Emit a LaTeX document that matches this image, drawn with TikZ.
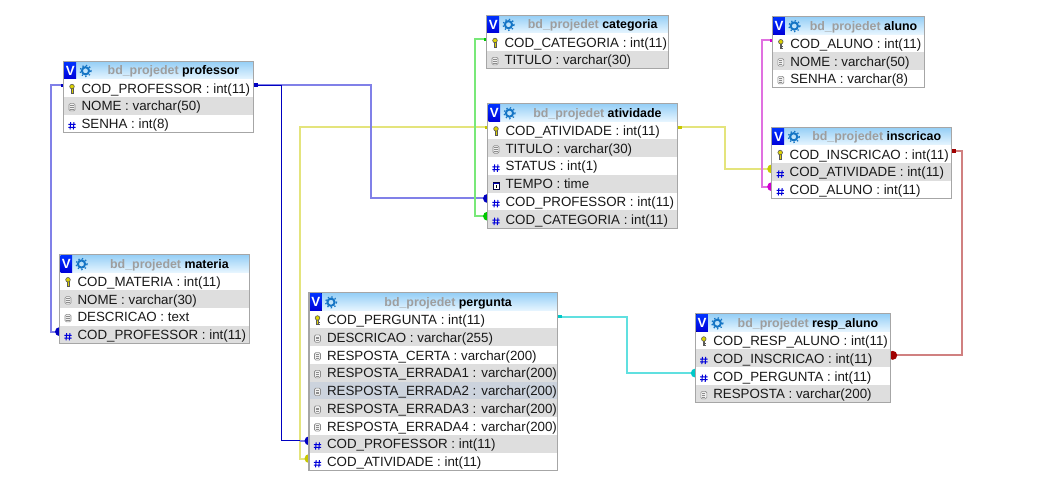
\documentclass[tikz,border=0pt]{standalone}
\usepackage{fontspec}
\setmainfont{Liberation Sans}
\usetikzlibrary{backgrounds,calc}
\definecolor{colw}{HTML}{FFFFFF}
\definecolor{colg}{HTML}{DEDEDE}
\definecolor{colh}{HTML}{CCD3DD}
\definecolor{lblue}{HTML}{8080E8}
\definecolor{dblue}{HTML}{0000C0}
\definecolor{lyellow}{HTML}{E4E47C}
\definecolor{dyellow}{HTML}{C8C800}
\definecolor{lgreen}{HTML}{78E878}
\definecolor{dgreen}{HTML}{00C800}
\definecolor{lmag}{HTML}{E070E0}
\definecolor{dmag}{HTML}{D000D0}
\definecolor{lred}{HTML}{D08080}
\definecolor{dred}{HTML}{A00000}
\definecolor{lcyan}{HTML}{60E0E0}
\definecolor{dcyan}{HTML}{00C8C8}
\definecolor{headtop}{HTML}{94CEF6}
\definecolor{headbot}{HTML}{E8F6FF}
\tikzset{
  rowband/.style={rectangle,inner sep=0pt,outer sep=0pt,anchor=west,minimum height=13.3125pt},
  rowtext/.style={inner sep=0pt,outer sep=0pt,anchor=base west,font=\fontsize{10}{12}\selectfont,text=black!90},
  headband/.style={rectangle,inner sep=0pt,outer sep=0pt,anchor=north west,minimum height=13.5pt,top color=headtop,bottom color=headbot},
  headtext/.style={inner sep=0pt,outer sep=0pt,anchor=base,font=\fontsize{9.3}{11}\selectfont\bfseries},
  frame/.style={draw=black!35,line width=.8pt,fill=none,inner sep=0pt,outer sep=0pt,anchor=north west},
  link/.style={line width=1.5pt,line cap=butt,line join=miter},
  thinlink/.style={line width=.75pt,line join=miter},
}
\newcommand\myiconk[2]{\begin{scope}[shift={(#1,#2)}]
  \draw[draw=black!65,fill=yellow!70!olive,line width=.45pt] (-.9,-1) rectangle (.9,4.2);
  \draw[draw=black!65,line width=.45pt] (.9,2) -- (2.2,2) (.9,3.6) -- (2.2,3.6);
  \draw[draw=black!65,fill=yellow!70!olive,line width=.45pt] (0,-2.6) circle (2.3);
\end{scope}}
\newcommand\myicond[2]{\begin{scope}[shift={(#1,#2)}]
  \draw[draw=black!45,fill=black!6,line width=.45pt,rounded corners=1pt] (-3,-3.5) rectangle (3,4);
  \draw[draw=black!45,line width=.4pt] (-1.6,-1.5) -- (1.6,-1.5) (-1.6,.3) -- (1.6,.3) (-1.6,2.1) -- (1.6,2.1);
\end{scope}}
\newcommand\myiconn[2]{\begin{scope}[shift={(#1,#2+1)}]
  \draw[draw=blue!85!black,line width=.75pt] (-1.4,-3.5) -- (-1.9,3.8) (1.9,-3.5) -- (1.4,3.8) (-3.7,-1.2) -- (3.7,-1.2) (-3.7,1.6) -- (3.7,1.6);
\end{scope}}
\newcommand\myicont[2]{\begin{scope}[shift={(#1,#2+1)}]
  \draw[draw=black!75!blue,fill=white,line width=.5pt] (-3,-3) rectangle (3,3.5);
  \fill[blue!70!black] (-3,-3) rectangle (3,-1.5);
  \draw[black,line width=.6pt] (.2,-.8) -- (.2,2.4);
\end{scope}}
% #1 id, #2 x0, #3 x1, #4 ytop, #5 title, #6 rows
\newcommand\dbtable[6]{%
  \pgfmathsetlengthmacro\tw{(#3-#2)*0.75pt}%
  \node[headband,minimum width=\tw] (#1-h) at (#2,#4) {};
  \fill[top color=blue!80!cyan,bottom color=blue!85!black] (#2+1,#4+.5) rectangle (#2+12.5,#4+18);
  \node[headtext,font=\fontsize{10}{12}\selectfont\bfseries,text=white,anchor=center] (#1-v) at (#2+6.8,#4+9.6) {V};
  \draw[draw=cyan!55!blue,line width=1.5pt] (#2+22,#4+9.5) circle (3.6);
  \draw[draw=cyan!55!blue,line width=1pt,dash pattern=on 1pt off 1.8pt] (#2+22,#4+9.5) circle (5.6);
  \pgfmathsetmacro\tcx{(#2+30+#3)/2}%
  \node[headtext] (#1-t) at (\tcx,#4+13.5) {\textcolor{black!38}{bd\_projedet} #5};
  \foreach \ty/\fl/\txt [count=\i] in {#6} {
    \pgfmathsetmacro\yc{#4+18+(\i-0.5)*17.75}
    \node[rowband,minimum width=\tw,fill=col\fl] (#1-\i) at (#2,\yc) {};
    \csname myicon\ty\endcsname{#2+8.5}{\yc+1}
    \node[rowtext] (#1-\i-t) at (#2+18,\yc+5) {\txt};
    \xdef\lastrow{\i}
  }
  \pgfmathsetlengthmacro\th{(18+\lastrow*17.75)*0.75pt}%
  \node[frame,minimum width=\tw,minimum height=\th] (#1-f) at (#2,#4) {};
}
\newcommand\conn[4]{%
  \draw[#1] ([yshift=2.25pt]#2) -- ([yshift=2.25pt]#2 -| #4) -- ([yshift=2.25pt]#3 -| #4) -- ([yshift=2.25pt]#3);
}
% round end on a table side: colour, anchor, x shift px, radius px
\newcommand\manyend[4]{\fill[#1] ([yshift=2.25pt,xshift=#3*.75pt]#2) circle (#4);}
\newcommand\oneend[4]{\fill[#1] ([yshift=2.25pt,xshift=#3*.75pt]#2) ++(-#4,-#4) rectangle ++(2*#4,2*#4);}
\begin{document}
\begin{tikzpicture}[x=.75pt,y=-.75pt]
\useasboundingbox (0,0) rectangle (1039,482);
\dbtable{prof}{63.5}{253.5}{61.3}{professor}{k/w/COD\_PROFESSOR : int(11),d/g/NOME : varchar(50),n/w/SENHA : int(8)}
\dbtable{mat}{59.5}{249.3}{254.5}{materia}{k/w/COD\_MATERIA : int(11),d/g/NOME : varchar(30),d/w/DESCRICAO : text,n/g/COD\_PROFESSOR : int(11)}
\dbtable{cat}{486.5}{668.8}{15.2}{categoria}{k/w/COD\_CATEGORIA : int(11),d/g/TITULO : varchar(30)}
\dbtable{ativ}{487.5}{677.3}{103.6}{atividade}{k/w/COD\_ATIVIDADE : int(11),d/g/TITULO : varchar(30),n/w/STATUS : int(1),t/g/TEMPO : time,n/w/COD\_PROFESSOR : int(11),n/g/COD\_CATEGORIA : int(11)}
\dbtable{alu}{772.3}{924.7}{16.5}{aluno}{k/w/COD\_ALUNO : int(11),d/g/NOME : varchar(50),d/w/SENHA : varchar(8)}
\dbtable{ins}{771.7}{951.7}{127.3}{inscricao}{k/w/COD\_INSCRICAO : int(11),n/g/COD\_ATIVIDADE : int(11),n/w/COD\_ALUNO : int(11)}
\dbtable{per}{309}{557.3}{292.7}{pergunta}{k/w/COD\_PERGUNTA : int(11),d/g/DESCRICAO : varchar(255),d/w/RESPOSTA\_CERTA : varchar(200),d/g/RESPOSTA\_ERRADA1 : varchar(200),d/h/RESPOSTA\_ERRADA2 : varchar(200),d/g/RESPOSTA\_ERRADA3 : varchar(200),d/w/RESPOSTA\_ERRADA4 : varchar(200),n/g/COD\_PROFESSOR : int(11),n/w/COD\_ATIVIDADE : int(11)}
\dbtable{res}{695.3}{890.7}{313.7}{resp\_aluno}{k/w/COD\_RESP\_ALUNO : int(11),n/g/COD\_INSCRICAO : int(11),n/w/COD\_PERGUNTA : int(11),d/g/RESPOSTA : varchar(200)}
\begin{scope}[on background layer]
  \fill[white] (0,0) rectangle (1039,482);
  \coordinate (vA) at (370.7,0);
  \coordinate (vB) at (281.5,0);
  \coordinate (vC) at (50.7,0);
  \coordinate (vD) at (300,0);
  \coordinate (vE) at (724.5,0);
  \coordinate (vF) at (475,0);
  \coordinate (vG) at (762,0);
  \coordinate (vH) at (962,0);
  \coordinate (vI) at (627,0);
  \conn{link,lyellow}{ativ-1.west}{per-9.west}{vD}
  \conn{link,lblue}{prof-1.east}{ativ-5.west}{vA}
  \conn{thinlink,dblue}{prof-1.east}{per-8.west}{vB}
  \draw[link,lblue] ([yshift=2.25pt]per-8.west -| vD) -- ([yshift=2.25pt]per-8.west);
  \conn{link,lblue}{prof-1.west}{mat-4.west}{vC}
  \conn{link,lyellow}{ativ-1.east}{ins-2.west}{vE}
  \conn{link,lgreen}{cat-1.west}{ativ-6.west}{vF}
  \conn{link,lmag}{alu-1.west}{ins-3.west}{vG}
  \conn{link,lred}{ins-1.east}{res-2.east}{vH}
  \conn{link,lcyan}{per-1.east}{res-3.west}{vI}
  \manyend{dblue}{ativ-5.west}{0}{4.5}
  \manyend{dblue}{per-8.west}{0}{4.5}
  \manyend{dblue}{mat-4.west}{0}{4.5}
  \manyend{dyellow}{per-9.west}{0}{4.5}
  \manyend{dyellow}{ins-2.west}{0}{4.5}
  \manyend{dgreen}{ativ-6.west}{0}{4.5}
  \manyend{dmag}{ins-3.west}{0}{4.5}
  \manyend{dred}{res-2.east}{2}{4.5}
  \manyend{dcyan}{res-3.west}{0}{4.5}
  \oneend{dblue}{prof-1.east}{2.5}{1.8}
  \oneend{dblue}{prof-1.west}{-1}{1.5}
  \oneend{dyellow}{ativ-1.east}{2.5}{1.8}
  \oneend{dyellow}{ativ-1.west}{-1}{1.5}
  \oneend{dgreen}{cat-1.west}{-1}{1.5}
  \oneend{dmag}{alu-1.west}{-1}{1.5}
  \oneend{dred}{ins-1.east}{2.5}{1.8}
  \oneend{dcyan}{per-1.east}{2.5}{1.8}
\end{scope}
\end{tikzpicture}
\end{document}
